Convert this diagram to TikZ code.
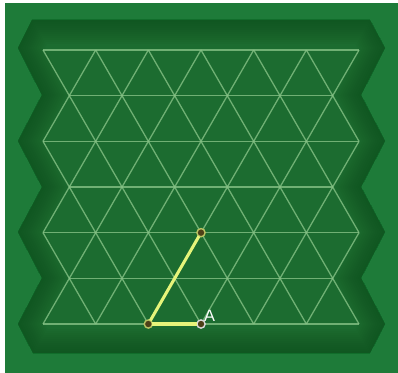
\documentclass[tikz,border=0pt]{standalone}
\usepackage{fontspec}
\setsansfont{Liberation Sans}
\usepackage{xcolor}
\usepackage{tikz}
\usetikzlibrary{calc}

\definecolor{feltgreen}{HTML}{1E7B39}
\definecolor{boardgreen}{HTML}{1C6C30}
\definecolor{boardshade}{HTML}{0E4D1C}
\definecolor{gridgreen}{HTML}{86C286}
\definecolor{segyellow}{HTML}{E6F47A}
\definecolor{dotbrown}{HTML}{4E4018}

\begin{document}
\begin{tikzpicture}[
    x=0.03cm, y=-0.03cm,
    gridline/.style={draw=gridgreen, line width=1.1pt, opacity=0.8},
    segment/.style={draw=segyellow, line width=2.6pt},
    vertexdot/.style={circle, draw=#1, fill=dotbrown, line width=1.2pt,
                      minimum size=7pt, inner sep=0pt},
    vertexdot/.default=segyellow!80!black,
    ptlabel/.style={text=white, font=\sffamily\fontsize{14}{16}\selectfont, inner sep=0pt}
]
  \useasboundingbox (0,0) rectangle (398,373);
  % Background
  \fill[feltgreen] (5,3) rectangle (398,373);

  % Board
  \def\boardpath{(32,20) -- (18,48) -- (42,95) -- (18,141) -- (42,187) -- (18,232)
     -- (42,278) -- (18,324) -- (33,353) -- (370,353) -- (385,324) -- (361,278)
     -- (385,232) -- (361,187) -- (385,141) -- (361,95) -- (385,48) -- (370,20) -- cycle}
  \begin{scope}
    \clip \boardpath;
    \fill[boardgreen] \boardpath;
    \foreach \w in {48,44,...,4}
      \draw[boardshade, line width=\w*0.85pt, opacity=0.07, line join=miter] \boardpath;
  \end{scope}

  % Grid vertices
  \foreach \i in {0,...,6} {
    \pgfmathsetmacro{\yy}{50+45.67*\i}
    \ifodd\i
      \foreach \j in {0,...,5}
        \coordinate (v-\i-\j) at ({69.33+52.67*\j},\yy);
    \else
      \foreach \j in {0,...,6}
        \coordinate (v-\i-\j) at ({43+52.67*\j},\yy);
    \fi
  }

  % Grid lines
  \foreach \i in {0,2,4,6}
    \draw[gridline] (v-\i-0) -- (v-\i-6);
  \foreach \i in {1,3,5}
    \draw[gridline] (v-\i-0) -- (v-\i-5);
  \foreach \i/\n in {0/1,2/3,4/5} {
    \foreach \j in {0,...,5} {
      \pgfmathtruncatemacro{\k}{\j+1}
      \draw[gridline] (v-\i-\j) -- (v-\n-\j) -- (v-\i-\k);
    }
  }
  \foreach \i/\n in {1/2,3/4,5/6} {
    \foreach \j in {0,...,5} {
      \pgfmathtruncatemacro{\k}{\j+1}
      \draw[gridline] (v-\n-\j) -- (v-\i-\j) -- (v-\n-\k);
    }
  }

  % Points
  \node[vertexdot] (ptB) at (v-6-2) {};
  \node[vertexdot] (ptC) at (v-4-3) {};
  \node[vertexdot=white!85!black] (ptA) at (v-6-3) {};
  \node[ptlabel, anchor=south west] (lblA) at ($(ptA)+(3,-2)$) {A};

  % Segments
  \draw[segment, shorten <=3.5pt, shorten >=3.5pt] (ptB.center) -- (ptC.center);
  \draw[segment, shorten <=3.5pt, shorten >=3.5pt] (ptB.center) -- (ptA.center);
\end{tikzpicture}
\end{document}
